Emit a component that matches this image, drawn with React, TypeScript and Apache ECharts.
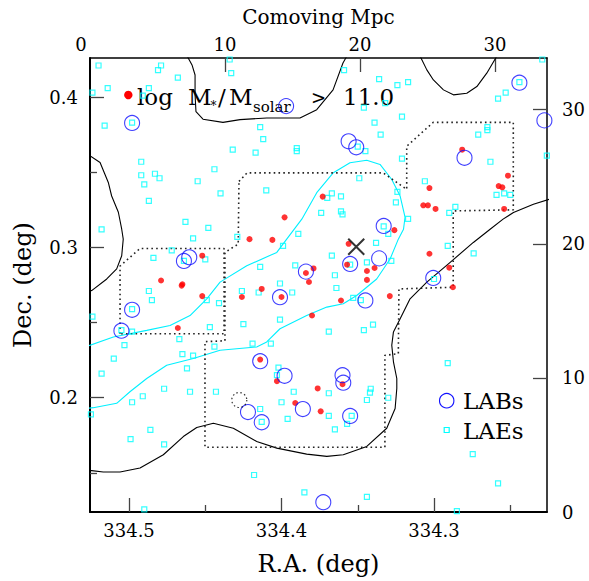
import React, { useEffect, useRef } from "react";
import * as echarts from "echarts";

const RA_MIN = 334.2259;
const RA_MAX = 334.5256;
const DEC_MIN = 0.124;
const DEC_MAX = 0.426;
const MPC_MAX = 33.85;

const raMajor = [334.3, 334.4, 334.5];
const raMinor = [334.25, 334.35, 334.45];
const decMajor = [0.2, 0.3, 0.4];
const decMinor = [0.15, 0.25, 0.35];
const mpcTicks = [10, 20, 30];
const mpcLabels = [0, 10, 20, 30];

// LAEs (cyan squares): [R.A., Dec.]
const laes: number[][] = [
  [334.520, 0.421], [334.479, 0.421], [334.481, 0.418], [334.468, 0.413], [334.514, 0.406],
  [334.487, 0.406], [334.491, 0.401], [334.524, 0.403], [334.498, 0.383], [334.516, 0.381],
  [334.434, 0.425], [334.433, 0.416], [334.414, 0.380], [334.412, 0.372], [334.432, 0.365],
  [334.417, 0.363], [334.390, 0.366], [334.390, 0.364], [334.492, 0.357], [334.444, 0.352],
  [334.492, 0.348], [334.483, 0.349], [334.480, 0.346], [334.490, 0.342], [334.455, 0.344],
  [334.440, 0.336], [334.410, 0.338], [334.487, 0.331], [334.374, 0.323], [334.463, 0.317],
  [334.448, 0.313], [334.518, 0.312], [334.370, 0.333], [334.359, 0.418], [334.336, 0.412],
  [334.324, 0.408], [334.317, 0.410], [334.346, 0.393], [334.332, 0.396], [334.321, 0.387],
  [334.339, 0.383], [334.335, 0.375], [334.350, 0.367], [334.345, 0.364], [334.321, 0.359],
  [334.244, 0.410], [334.253, 0.403], [334.258, 0.399], [334.229, 0.425], [334.226, 0.361],
  [334.265, 0.380], [334.265, 0.378], [334.271, 0.375], [334.263, 0.357], [334.349, 0.346],
  [334.306, 0.344], [334.324, 0.337], [334.367, 0.336], [334.361, 0.334], [334.325, 0.330],
  [334.259, 0.335], [334.254, 0.336], [334.250, 0.335], [334.286, 0.327], [334.290, 0.323],
  [334.361, 0.324], [334.360, 0.322], [334.317, 0.319], [334.333, 0.314], [334.458, 0.306],
  [334.429, 0.307], [334.389, 0.309], [334.399, 0.301], [334.472, 0.298], [334.484, 0.293],
  [334.464, 0.291], [334.450, 0.292], [334.414, 0.287], [334.391, 0.288], [334.401, 0.276],
  [334.426, 0.271], [334.415, 0.270], [334.393, 0.270], [334.487, 0.271], [334.485, 0.265],
  [334.449, 0.265], [334.441, 0.263], [334.498, 0.259], [334.524, 0.254], [334.401, 0.252],
  [334.425, 0.249], [334.447, 0.247], [334.505, 0.245], [334.498, 0.244], [334.369, 0.244],
  [334.467, 0.239], [334.503, 0.235], [334.444, 0.234], [334.419, 0.236], [334.407, 0.236],
  [334.510, 0.226], [334.465, 0.229], [334.458, 0.228], [334.462, 0.2195], [334.402, 0.220],
  [334.403, 0.215], [334.518, 0.216], [334.330, 0.309], [334.338, 0.303], [334.367, 0.2945],
  [334.355, 0.2885], [334.344, 0.290], [334.328, 0.291], [334.291, 0.301], [334.274, 0.296],
  [334.365, 0.2815], [334.364, 0.273], [334.300, 0.279], [334.353, 0.2665], [334.348, 0.265],
  [334.346, 0.245], [334.340, 0.2486], [334.291, 0.223], [334.477, 0.206], [334.460, 0.204],
  [334.443, 0.204], [334.491, 0.201], [334.498, 0.197], [334.525, 0.189], [334.486, 0.1786],
  [334.499, 0.1725], [334.477, 0.169], [334.392, 0.204], [334.400, 0.197], [334.414, 0.1925],
  [334.413, 0.184], [334.396, 0.186], [334.369, 0.203], [334.369, 0.188], [334.418, 0.1486],
  [334.385, 0.137], [334.490, 0.1257], [334.3415, 0.206], [334.342, 0.2034], [334.344, 0.1985],
  [334.330, 0.200], [334.354, 0.188], [334.357, 0.1826], [334.365, 0.179], [334.344, 0.134],
  [334.2746, 0.1625], [334.258, 0.143], [334.285, 0.1246],
];

// Massive galaxies, log M*/Msolar > 11.0 (red dots)
const massive: number[][] = [
  [334.373, 0.3338], [334.398, 0.320], [334.421, 0.3055], [334.406, 0.305], [334.452, 0.2945],
  [334.479, 0.278], [334.4655, 0.2746], [334.465, 0.2755], [334.452, 0.2676], [334.413, 0.2724],
  [334.426, 0.267], [334.384, 0.283], [334.379, 0.286], [334.382, 0.277], [334.400, 0.267],
  [334.380, 0.2547], [334.468, 0.2464], [334.414, 0.2254], [334.2815, 0.365], [334.2515, 0.3477],
  [334.2576, 0.3408], [334.2552, 0.340], [334.303, 0.3395], [334.307, 0.328], [334.304, 0.328],
  [334.299, 0.3256], [334.254, 0.3256], [334.326, 0.3115], [334.356, 0.3024], [334.303, 0.2958],
  [334.357, 0.2885], [334.344, 0.2843], [334.339, 0.2863], [334.344, 0.2784], [334.290, 0.2865],
  [334.361, 0.2647], [334.329, 0.2676], [334.2876, 0.2735], [334.403, 0.211], [334.3763, 0.2062],
  [334.391, 0.1965], [334.3743, 0.191], [334.360, 0.209],
];

// LABs (blue circles)
const labs: number[][] = [
  [334.498, 0.3828], [334.397, 0.394], [334.244, 0.4096], [334.356, 0.3706], [334.351, 0.3666],
  [334.280, 0.3596], [334.2276, 0.3845], [334.333, 0.3143], [334.464, 0.291], [334.4605, 0.2934],
  [334.498, 0.2585], [334.505, 0.2446], [334.384, 0.2839], [334.401, 0.2669], [334.414, 0.2243],
  [334.398, 0.2146], [334.355, 0.289], [334.336, 0.2927], [334.345, 0.2647], [334.3005, 0.2797],
  [334.360, 0.215], [334.3595, 0.210], [334.422, 0.1905], [334.413, 0.1837], [334.386, 0.1925],
  [334.3726, 0.1305], [334.355, 0.1879],
];

const centerMark: number[][] = [[334.351, 0.3004]];
const dottedMark: number[][] = [[334.4277, 0.1985]];

// Black density contours
const contourTopLeft: number[][] = [
  [334.4626, 0.4286], [334.4587, 0.4214], [334.4567, 0.4147], [334.4567, 0.4015], [334.4561, 0.3903],
  [334.4515, 0.3853], [334.4384, 0.3832], [334.4272, 0.385], [334.4097, 0.3861], [334.3879, 0.3861],
  [334.3769, 0.3916], [334.3662, 0.4048], [334.3597, 0.4227], [334.3564, 0.4286],
];
const contourTopRight: number[][] = [
  [334.3098, 0.4286], [334.3047, 0.4181], [334.3004, 0.4114], [334.2938, 0.4048], [334.2873, 0.4015],
  [334.2785, 0.4026], [334.2719, 0.407], [334.2654, 0.4159], [334.258, 0.4286],
];
const contourLeft: number[][] = [
  [334.5269, 0.3618], [334.519, 0.3565], [334.5136, 0.3432], [334.5114, 0.3342], [334.507, 0.3234],
  [334.5048, 0.3121], [334.5038, 0.3055], [334.5048, 0.2945], [334.5081, 0.2857], [334.5146, 0.279],
  [334.5245, 0.2713], [334.5269, 0.2704],
];
const contourMain: number[][] = [
  [334.2245, 0.332], [334.2348, 0.3287], [334.2479, 0.3232], [334.2547, 0.3188], [334.2632, 0.3121],
  [334.2742, 0.3033], [334.2894, 0.2901], [334.3047, 0.2769], [334.3157, 0.2658], [334.3222, 0.2526],
  [334.3266, 0.2438], [334.3277, 0.2349], [334.3266, 0.2239], [334.3244, 0.2128], [334.3244, 0.2062],
  [334.3255, 0.1929], [334.331, 0.1797], [334.3441, 0.1676], [334.3595, 0.1621], [334.3703, 0.161],
  [334.3835, 0.1625], [334.4031, 0.1665], [334.4163, 0.1709], [334.4316, 0.1797], [334.4447, 0.183],
  [334.4556, 0.1802], [334.4644, 0.1742], [334.4775, 0.1621], [334.4928, 0.1533], [334.5059, 0.1506],
  [334.5169, 0.1506], [334.5245, 0.1515], [334.5269, 0.1516],
];
// Cyan LAE density contour
const contourLae: number[][] = [
  [334.5269, 0.2344], [334.5103, 0.2404], [334.4884, 0.2448], [334.4731, 0.2481], [334.46, 0.2547],
  [334.449, 0.2658], [334.4403, 0.2769], [334.4228, 0.2878], [334.4031, 0.2967], [334.3966, 0.3055],
  [334.3867, 0.3188], [334.3769, 0.3364], [334.366, 0.3497], [334.3551, 0.3563], [334.3441, 0.358],
  [334.3354, 0.3552], [334.3277, 0.3452], [334.3222, 0.3342], [334.319, 0.3201], [334.32, 0.3121],
  [334.3234, 0.3055], [334.3288, 0.2923], [334.3376, 0.279], [334.3507, 0.268], [334.3595, 0.2625],
  [334.3703, 0.2603], [334.3835, 0.2547], [334.401, 0.2459], [334.4097, 0.2371], [334.4163, 0.2338],
  [334.4403, 0.2316], [334.4579, 0.2261], [334.4753, 0.2216], [334.4884, 0.2128], [334.4994, 0.204],
  [334.5081, 0.1963], [334.5234, 0.1934], [334.5269, 0.193],
];
// Dotted survey footprints
const fieldLeft: number[][] = [
  [334.5059, 0.2426], [334.5059, 0.2876], [334.4928, 0.2993], [334.4377, 0.2993], [334.4377, 0.2426],
  [334.5059, 0.2426],
];
const fieldMain: number[][] = [
  [334.4279, 0.3439], [334.4226, 0.3496], [334.3333, 0.3496], [334.3179, 0.3386], [334.3179, 0.3673],
  [334.3005, 0.3832], [334.248, 0.3832], [334.248, 0.325], [334.2874, 0.3243], [334.2874, 0.2735],
  [334.323, 0.2724], [334.3234, 0.2293], [334.3322, 0.2282], [334.3322, 0.1671], [334.4502, 0.1671],
  [334.4502, 0.2373], [334.4371, 0.2379], [334.4371, 0.2967], [334.4284, 0.3022], [334.4279, 0.3439],
];

const FONT = '"DejaVu Serif", "Liberation Serif", serif';

export default function App() {
  const ref = useRef<HTMLDivElement>(null);
  useEffect(() => {
    const chart = echarts.init(ref.current!, null, { renderer: "svg" });
    const line = (data: number[][], color: string, dotted = false) => ({
      type: "line",
      data,
      xAxisIndex: 0,
      yAxisIndex: 0,
      symbol: "none",
      showSymbol: false,
      silent: true,
      clip: true,
      z: 1,
      lineStyle: dotted
        ? { color: "#222", width: 1.6, type: [1.6, 3.2] }
        : { color, width: 1.1 },
    });
    const tickLabel = { fontFamily: FONT, fontSize: 18, color: "#000" };
    const txt = (text: string, x: number, y: number, size: number) => ({
      type: "text", x, y,
      style: { text, fontFamily: FONT, fontSize: size, fill: "#000", verticalAlign: "middle" },
    });
    const option: any = {
      animation: false,
      backgroundColor: "#fff",
      grid: { left: 90, top: 58, width: 457, height: 456, containLabel: false },
      xAxis: [
        {
          type: "value", position: "bottom", min: RA_MIN, max: RA_MAX, inverse: true,
          axisLine: { lineStyle: { color: "#000", width: 2 } },
          axisTick: { inside: true, length: 14, customValues: raMajor, lineStyle: { color: "#444", width: 1.3 } },
          axisLabel: { customValues: raMajor, margin: 9, formatter: (v: number) => v.toFixed(1), ...tickLabel },
          splitLine: { show: false },
          name: "R.A. (deg)", nameLocation: "middle", nameGap: 40,
          nameTextStyle: { fontFamily: FONT, fontSize: 24, color: "#000" },
        },
        {
          type: "value", position: "bottom", min: RA_MIN, max: RA_MAX, inverse: true,
          axisLine: { show: false },
          axisTick: { inside: true, length: 7, customValues: raMinor, lineStyle: { color: "#444", width: 1.3 } },
          axisLabel: { show: false },
          splitLine: { show: false },
        },
        {
          type: "value", position: "top", min: 0, max: MPC_MAX,
          axisLine: { lineStyle: { color: "#000", width: 1.5 } },
          axisTick: { inside: true, length: 14, customValues: mpcTicks, lineStyle: { color: "#444", width: 1.3 } },
          axisLabel: {
            customValues: mpcLabels, margin: 5, ...tickLabel,
            formatter: (v: number) => (v === 0 ? "{z|0}" : String(v)),
            rich: { z: { fontFamily: FONT, fontSize: 18, color: "#000", padding: [0, 18, 0, 0] } },
          },
          splitLine: { show: false },
          name: "Comoving Mpc", nameLocation: "middle", nameGap: 31,
          nameTextStyle: { fontFamily: FONT, fontSize: 20, color: "#000" },
        },
      ],
      yAxis: [
        {
          type: "value", position: "left", min: DEC_MIN, max: DEC_MAX,
          axisLine: { lineStyle: { color: "#000", width: 2 } },
          axisTick: { inside: true, length: 14, customValues: decMajor, lineStyle: { color: "#444", width: 1.3 } },
          axisLabel: { customValues: decMajor, margin: 12, formatter: (v: number) => v.toFixed(1), ...tickLabel },
          splitLine: { show: false },
          name: "Dec. (deg)", nameLocation: "middle", nameGap: 55, nameRotate: 90,
          nameTextStyle: { fontFamily: FONT, fontSize: 24, color: "#000" },
        },
        {
          type: "value", position: "left", min: DEC_MIN, max: DEC_MAX,
          axisLine: { show: false },
          axisTick: { inside: true, length: 7, customValues: decMinor, lineStyle: { color: "#444", width: 1.3 } },
          axisLabel: { show: false },
          splitLine: { show: false },
        },
        {
          type: "value", position: "right", min: 0, max: MPC_MAX,
          axisLine: { lineStyle: { color: "#000", width: 1.5 } },
          axisTick: { inside: true, length: 14, customValues: mpcTicks, lineStyle: { color: "#444", width: 1.3 } },
          axisLabel: { customValues: mpcLabels, margin: 15, ...tickLabel },
          splitLine: { show: false },
        },
      ],
      series: [
        line(contourTopLeft, "#000"),
        line(contourTopRight, "#000"),
        line(contourLeft, "#000"),
        line(contourMain, "#000"),
        line(contourLae, "#00f0ff"),
        line(fieldLeft, "#222", true),
        line(fieldMain, "#222", true),
        {
          name: "LAEs", type: "scatter", data: laes, symbol: "rect", symbolSize: 5, z: 3,
          itemStyle: { color: "rgba(0,0,0,0)", borderColor: "#00ffff", borderWidth: 1.2 },
        },
        {
          name: "log M*/Msolar > 11.0", type: "scatter", data: massive, symbol: "circle", symbolSize: 6, z: 4,
          itemStyle: { color: "#ff0000" },
        },
        {
          name: "LABs", type: "scatter", data: labs, symbol: "circle", symbolSize: 15, z: 5,
          itemStyle: { color: "rgba(0,0,0,0)", borderColor: "#1010ff", borderWidth: 1.1 },
        },
        {
          name: "center", type: "scatter", data: centerMark, symbol: "path://M0,0L10,10M10,0L0,10", symbolSize: 16, z: 6,
          itemStyle: { color: "rgba(0,0,0,0)", borderColor: "#000", borderWidth: 2 },
        },
        {
          name: "dotted", type: "scatter", data: dottedMark, symbol: "circle", symbolSize: 15, z: 6,
          itemStyle: { color: "rgba(0,0,0,0)", borderColor: "#000", borderWidth: 1.2, borderType: [1.5, 2.5] },
        },
      ],
      graphic: [
        { type: "circle", shape: { cx: 128.3, cy: 95, r: 4.2 }, style: { fill: "#ff0000" } },
        txt("log", 137, 97, 23),
        txt("M", 188, 97, 23),
        txt("*", 210.5, 106, 12),
        txt("/", 218, 97, 23),
        txt("M", 229, 97, 23),
        txt("solar", 253, 107, 15),
        txt(">", 311, 97, 18),
        txt("11.0", 343, 97, 23),
        { type: "circle", shape: { cx: 446.7, cy: 400.7, r: 7.2 }, style: { fill: "none", stroke: "#1010ff", lineWidth: 1.1 } },
        txt("LABs", 463, 401, 23),
        { type: "rect", shape: { x: 444.2, y: 427.5, width: 5, height: 5 }, style: { fill: "none", stroke: "#00ffff", lineWidth: 1.2 } },
        txt("LAEs", 463, 431, 23),
      ],
    };
    chart.setOption(option);
    return () => chart.dispose();
  }, []);
  return (
    <div
      ref={ref}
      style={{ position: "absolute", left: 0, top: 0, width: 589, height: 581, background: "#fff" }}
    />
  );
}
